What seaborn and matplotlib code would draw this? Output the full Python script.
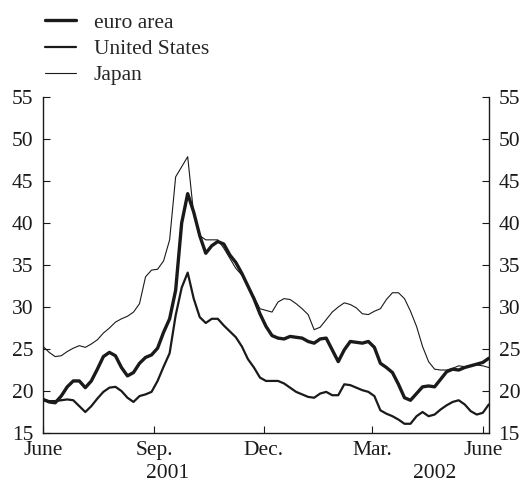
import pandas as pd
import numpy as np
import matplotlib
matplotlib.use("Agg")
import matplotlib.pyplot as plt
import matplotlib.dates as mdates
import matplotlib.transforms as mtrans
import seaborn as sns

# 数据：每 5 天一个点，2001-06-01 至 2002-06-06
dates = pd.date_range('2001-06-01', periods=75, freq='5D')

euro_area = [19.0, 18.7, 18.6, 19.4, 20.5, 21.2, 21.2, 20.4, 21.2, 22.6,
             24.1, 24.6, 24.2, 22.8, 21.8, 22.2, 23.3, 24.0, 24.3, 25.1,
             27.0, 28.6, 32.0, 40.0, 43.5, 41.3, 38.5, 36.4, 37.3, 37.8,
             37.5, 36.2, 35.3, 34.0, 32.5, 31.0, 29.2, 27.7, 26.6, 26.3,
             26.2, 26.5, 26.4, 26.3, 25.9, 25.7, 26.2, 26.3, 24.9, 23.5,
             24.9, 25.9, 25.8, 25.7, 25.9, 25.2, 23.3, 22.8, 22.2, 20.8,
             19.2, 18.9, 19.7, 20.5, 20.6, 20.5, 21.4, 22.3, 22.6, 22.5,
             22.8, 23.0, 23.2, 23.4, 23.9]

united_states = [18.9, 18.8, 18.8, 18.9, 19.0, 18.9, 18.2, 17.5, 18.2, 19.1,
                 19.9, 20.4, 20.5, 20.0, 19.2, 18.7, 19.4, 19.6, 19.9, 21.2,
                 22.9, 24.5, 29.0, 32.3, 34.1, 31.0, 28.8, 28.1, 28.6, 28.6,
                 27.8, 27.1, 26.4, 25.3, 23.8, 22.8, 21.6, 21.2, 21.2, 21.2,
                 20.9, 20.4, 19.9, 19.6, 19.3, 19.2, 19.7, 19.9, 19.5, 19.5,
                 20.8, 20.7, 20.4, 20.1, 19.9, 19.4, 17.7, 17.3, 17.0, 16.6,
                 16.1, 16.1, 17.0, 17.5, 17.0, 17.2, 17.8, 18.3, 18.7, 18.9,
                 18.4, 17.6, 17.2, 17.4, 18.4]

japan = [25.3, 24.6, 24.1, 24.2, 24.7, 25.1, 25.4, 25.2, 25.6, 26.1,
         26.9, 27.5, 28.2, 28.6, 28.9, 29.4, 30.4, 33.6, 34.4, 34.5,
         35.5, 38.0, 45.5, 46.7, 47.9, 41.0, 38.5, 38.0, 38.0, 38.0,
         37.0, 35.8, 34.6, 33.8, 32.5, 31.2, 29.8, 29.6, 29.4, 30.6,
         31.0, 30.9, 30.4, 29.8, 29.1, 27.3, 27.6, 28.5, 29.4, 30.0,
         30.5, 30.3, 29.9, 29.2, 29.1, 29.5, 29.8, 30.9, 31.7, 31.7,
         31.0, 29.5, 27.7, 25.3, 23.5, 22.6, 22.5, 22.5, 22.7, 23.0,
         22.9, 23.0, 23.1, 23.0, 22.8]

series_names = ['euro area', 'United States', 'Japan']
series_widths = [2.4, 1.6, 0.8]

month_ticks = ['2001-06-01', '2001-09-01', '2001-12-01', '2002-03-01', '2002-06-01']
month_labels = ['June', 'Sep.', 'Dec.', 'Mar.', 'June']
year_labels = ['2001', '2002']
year_pos = ['2001-09-12', '2002-04-22']

df = pd.DataFrame({'date': dates, 'euro area': euro_area,
                   'United States': united_states, 'Japan': japan})

sns.set_style('ticks')
plt.rcParams['font.family'] = ['Liberation Serif', 'DejaVu Serif']
fs = 15.5
ink = '#1a1a1a'

fig = plt.figure(figsize=(5.2, 4.83), dpi=100)
ax = fig.add_axes([0.083, 0.1035, 0.857, 0.6955])

for name, lw in zip(series_names, series_widths):
    sns.lineplot(data=df, x='date', y=name, ax=ax, color=ink, linewidth=lw, label=name)

ax.set_xlim(pd.Timestamp('2001-06-01'), pd.Timestamp('2002-06-06'))
ax.set_ylim(15, 55)
ax.set_yticks(range(15, 56, 5))
ax.set_xticks([pd.Timestamp(d) for d in month_ticks])
ax.set_xticklabels(month_labels)
ax.set_xlabel('')
ax.set_ylabel('')

ax.spines['top'].set_visible(False)
for s in ['left', 'right', 'bottom']:
    ax.spines[s].set_linewidth(1.0)
    ax.spines[s].set_color(ink)
ax.tick_params(axis='y', direction='in', length=5, right=True, labelright=True,
               labelsize=fs, colors=ink, pad=7)
ax.tick_params(axis='x', direction='in', length=5, labelsize=fs, colors=ink, pad=6)

# 年份标签
trans = mtrans.blended_transform_factory(ax.transData, ax.transAxes)
for lab, pos in zip(year_labels, year_pos):
    ax.text(mdates.date2num(pd.Timestamp(pos)), -0.12, lab,
            transform=trans, ha='center', va='center', fontsize=fs, color=ink)

ax.get_legend().remove()
handles, labels = ax.get_legend_handles_labels()
fig.legend(handles, labels, loc='upper left', bbox_to_anchor=(0.062, 1.0),
           frameon=False, fontsize=fs, handlelength=1.45, labelspacing=0.28,
           handletextpad=0.8, borderaxespad=0.2)

plt.savefig('out.png', dpi=100)
plt.close()
